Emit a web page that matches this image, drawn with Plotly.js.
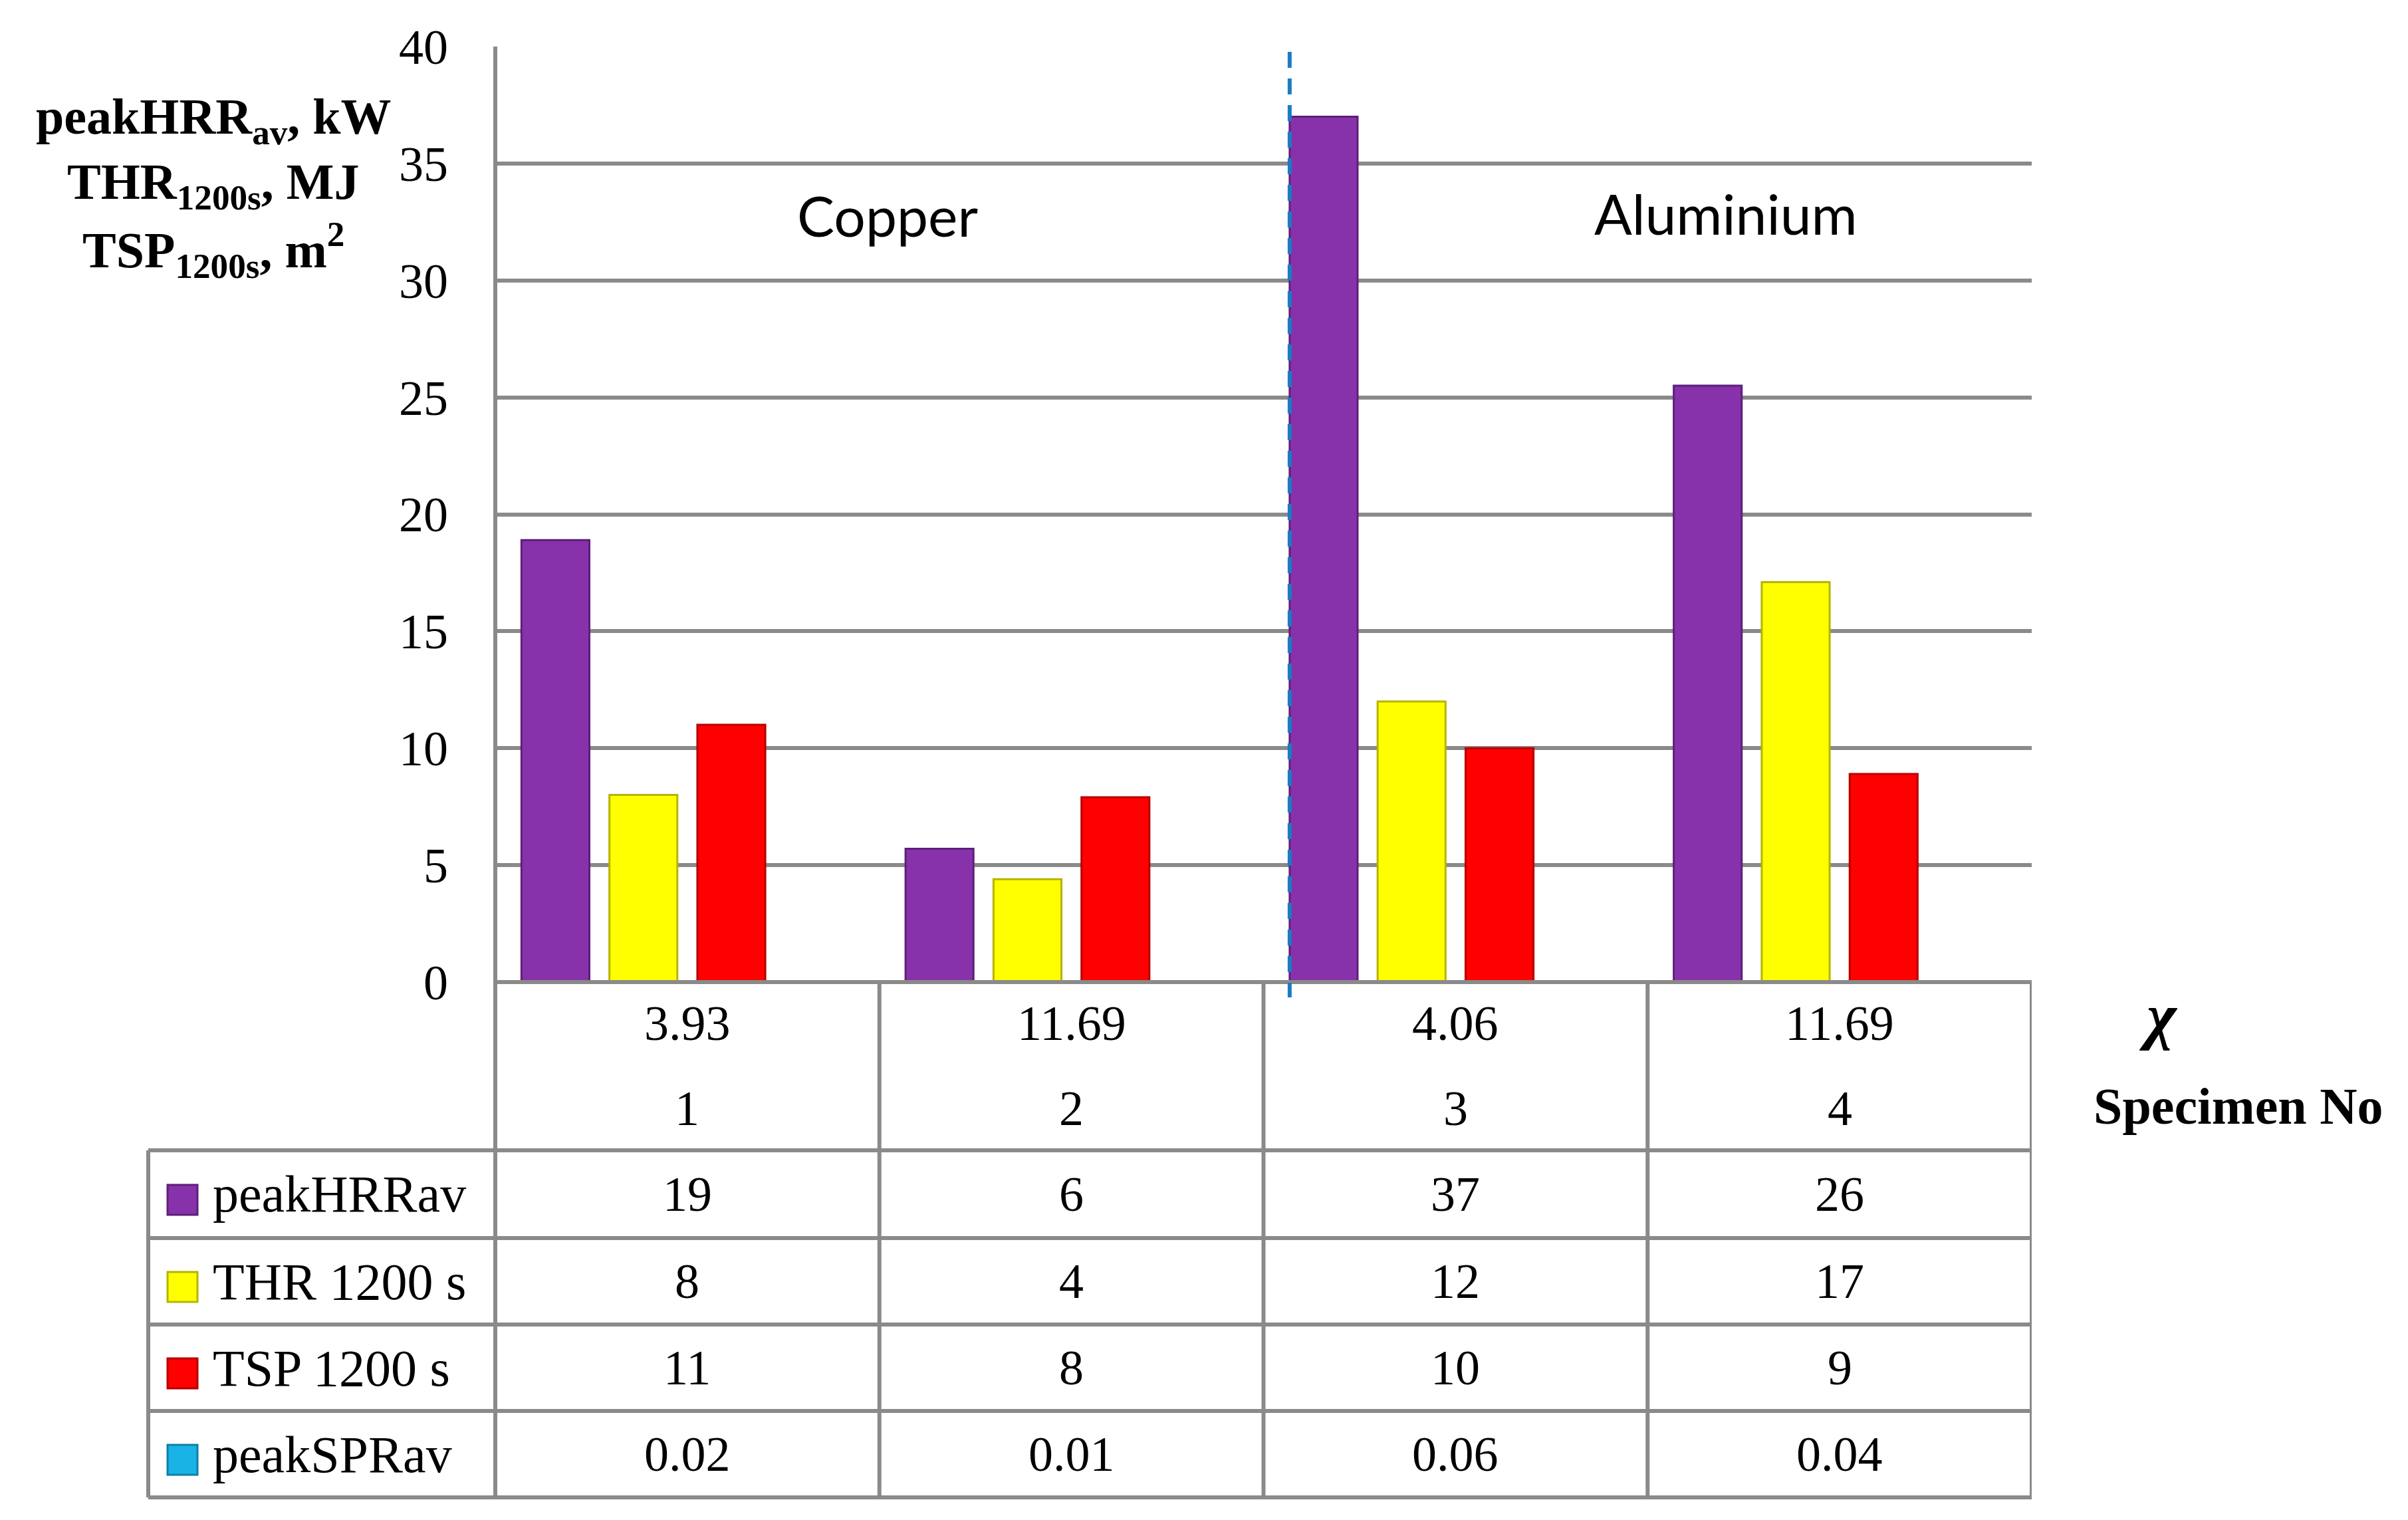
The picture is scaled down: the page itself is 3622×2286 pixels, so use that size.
<!DOCTYPE html>
<html>
<head>
<meta charset="utf-8">
<script src="https://cdn.plot.ly/plotly-3.0.1.min.js"></script>
<style>html,body{margin:0;padding:0;background:#fff;}#chart{width:3622px;height:2286px;}</style>
</head>
<body>
<div id="chart"></div>
<script>
// ---- data ----
const categories = ['1', '2', '3', '4'];
const chiValues = ['3.93', '11.69', '4.06', '11.69'];
const peakHRRav = [18.9, 5.7, 37.0, 25.5];
const thr1200 = [8.0, 4.4, 12.0, 17.1];
const tsp1200 = [11.0, 7.9, 10.0, 8.9];
const peakSPRav = [0.02, 0.01, 0.06, 0.04];
const seriesNames = ['peakHRRav', 'THR 1200 s', 'TSP 1200 s', 'peakSPRav'];
const groupLabels = ['Copper', 'Aluminium'];
const yTicks = [0, 5, 10, 15, 20, 25, 30, 35, 40];

// ---- layout geometry (pixels) ----
const W = 3622, H = 2286;
const PL = 745, PR = 3056, PT = 70, PB = 1477;
const pw = PR - PL, ph = PB - PT;
const xp = px => (px - PL) / pw;
const yp = py => (PB - py) / ph;

const fills = ['#8732ab', '#ffff00', '#ff0000', '#19b3e6'];
const edges = ['#5e1f7a', '#b5b500', '#b80000', '#0f7fa6'];
const serif = 'Liberation Serif';
const gridCol = '#8a8a8a';

const seriesData = [peakHRRav, thr1200, tsp1200, peakSPRav];
const traces = seriesData.map((vals, i) => ({
  type: 'bar', x: categories, y: vals, name: seriesNames[i],
  marker: {color: fills[i], line: {color: edges[i], width: i === 3 ? 0 : 3}},
  hoverinfo: 'skip'
}));

const bargap = 0.084, bargroupgap = 0.228;

const shapes = [];
const lineCol = {color: gridCol, width: 6};
// left axis line (through table)
shapes.push({type: 'line', xref: 'paper', yref: 'paper', x0: 0, x1: 0, y0: 1, y1: yp(2252), line: lineCol, layer: 'above'});
// internal column lines and right border below baseline
[0.5, 1.5, 2.5, 3.5].forEach(v => {
  shapes.push({type: 'line', xref: 'x', yref: 'paper', x0: v, x1: v, y0: 0, y1: yp(2252), line: lineCol, layer: 'above'});
});
// legend column left border
shapes.push({type: 'line', xref: 'paper', yref: 'paper', x0: xp(223), x1: xp(223), y0: yp(1730), y1: yp(2252), line: lineCol, layer: 'above'});
// horizontal lines
shapes.push({type: 'line', xref: 'paper', yref: 'paper', x0: 0, x1: 1, y0: 0, y1: 0, line: lineCol, layer: 'above'});
[1730, 1862, 1992, 2122, 2252].forEach(py => {
  shapes.push({type: 'line', xref: 'paper', yref: 'paper', x0: xp(223), x1: 1, y0: yp(py), y1: yp(py), line: lineCol, layer: 'above'});
});
// dashed divider at left edge of first bar in category 3
const slot = (1 - bargap) / 4;
const divX = 2 - (1 - bargap) / 2 + slot * bargroupgap / 2;
shapes.push({type: 'line', xref: 'x', yref: 'paper', x0: divX, x1: divX, y0: yp(78), y1: yp(1500),
  line: {color: '#1b7cc2', width: 6, dash: '24px,16px'}, layer: 'above'});

// table rows
const rowCenters = [1796, 1927, 2057, 2187];
rowCenters.forEach((cy, i) => {
  shapes.push({type: 'rect', xref: 'paper', yref: 'paper', x0: xp(252), x1: xp(297), y0: yp(cy - 14), y1: yp(cy + 31),
    fillcolor: fills[i], line: {color: edges[i], width: 3}, layer: 'above'});
});

const annotations = [];
const txt = (text, x, y, size, opts = {}) => Object.assign({
  text, x, y, xref: 'paper', yref: 'paper', showarrow: false,
  font: {family: serif, size, color: '#000'}, xanchor: 'center', yanchor: 'middle'
}, opts);

// y-axis title (three lines)
annotations.push(txt('<b>peakHRR<sub>av</sub>, kW</b>', xp(321), yp(181), 76));
annotations.push(txt('<b>THR<sub>1200s</sub>, MJ</b>', xp(321), yp(279), 76));
annotations.push(txt('<b>TSP<sub>1200s</sub>, m<sup>2</sup></b>', xp(321), yp(376), 76));

// group labels
annotations.push(txt(groupLabels[0], xp(1335), yp(323), 84, {font: {family: 'Lato', size: 84, color: '#000'}}));
annotations.push(txt(groupLabels[1], xp(2596), yp(320), 84, {font: {family: 'Lato', size: 84, color: '#000'}}));

// right-side row labels
annotations.push(txt('<b><i>χ</i></b>', xp(3246), yp(1528), 96));
annotations.push(txt('<b>Specimen No</b>', xp(3366), yp(1663), 78));

// table cells (x given as category index)
categories.forEach((c, j) => {
  annotations.push(txt(chiValues[j], j, yp(1539), 74, {xref: 'x'}));
  annotations.push(txt(c, j, yp(1667), 74, {xref: 'x'}));
  seriesData.forEach((vals, i) => {
    const label = i === 3 ? vals[j].toFixed(2) : String(Math.round(vals[j]));
    annotations.push(txt(label, j, yp(rowCenters[i]), 74, {xref: 'x'}));
  });
});
seriesNames.forEach((n, i) => {
  annotations.push(txt(n, xp(318), yp(rowCenters[i]), 78, {xanchor: 'left'}));
});

const layout = {
  width: W, height: H,
  margin: {l: PL, r: W - PR, t: PT, b: H - PB, pad: 0},
  paper_bgcolor: '#fff', plot_bgcolor: '#fff',
  showlegend: false,
  barmode: 'group', bargap, bargroupgap,
  xaxis: {type: 'category', range: [-0.5, 3.5], showticklabels: false, showgrid: false, zeroline: false, showline: false, ticks: '', fixedrange: true},
  yaxis: {range: [0, 40], tickvals: yTicks, ticktext: yTicks.map(String),
    tickfont: {family: serif, size: 74, color: '#000'},
    showgrid: true, gridcolor: gridCol, gridwidth: 6, zeroline: false, showline: false,
    ticks: '', ticklabelstandoff: 70, fixedrange: true},
  shapes, annotations
};

Plotly.newPlot('chart', traces, layout, {displayModeBar: false, staticPlot: true});
</script>
</body>
</html>
